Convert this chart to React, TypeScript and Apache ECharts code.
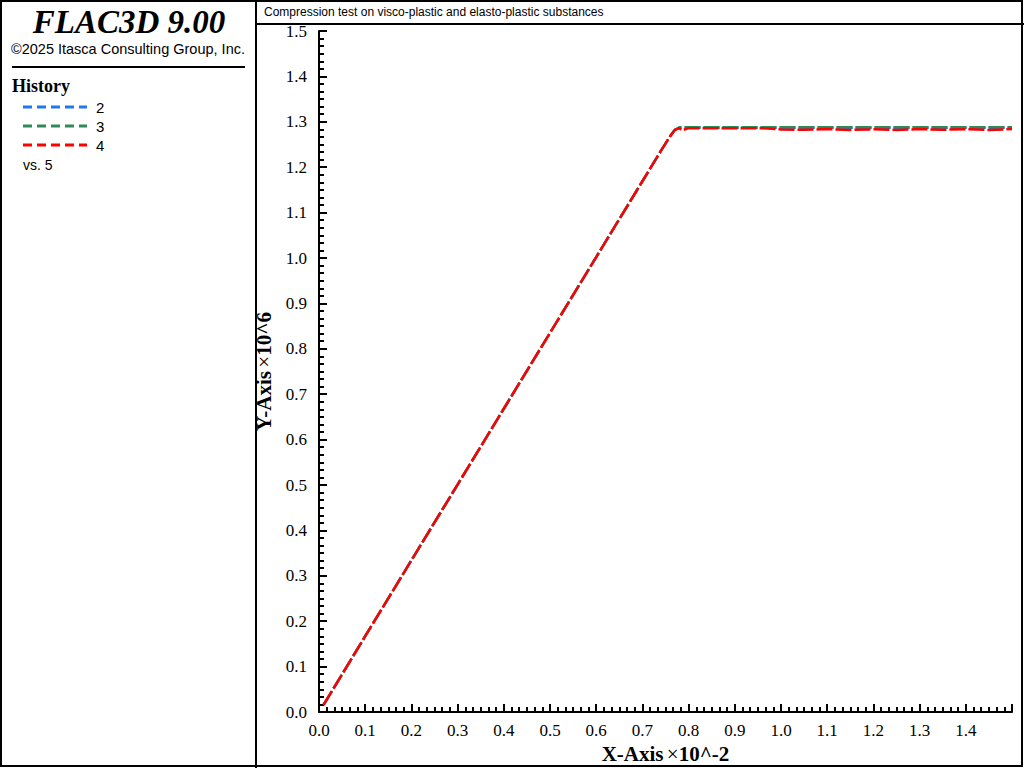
import React, { useEffect, useRef } from "react";
import * as echarts from "echarts";

const xValues = [0.01, 0.1, 0.2, 0.3, 0.4, 0.5, 0.6, 0.7, 0.74, 0.76, 0.77, 0.78, 0.8, 0.9, 1.0, 1.1, 1.2, 1.3, 1.4, 1.5];
const history2 = [0.016, 0.167, 0.334, 0.501, 0.668, 0.835, 1.002, 1.169, 1.236, 1.268, 1.282, 1.287, 1.287, 1.287, 1.287, 1.287, 1.287, 1.287, 1.287, 1.287];
const history3 = [0.016, 0.167, 0.334, 0.501, 0.668, 0.835, 1.002, 1.169, 1.236, 1.268, 1.282, 1.288, 1.288, 1.288, 1.288, 1.288, 1.288, 1.288, 1.288, 1.288];
const redX = [0.01, 0.1, 0.2, 0.3, 0.4, 0.5, 0.6, 0.7, 0.74, 0.76, 0.77, 0.78, 0.785, 0.8, 0.9, 0.97, 1.0, 1.05, 1.1, 1.15, 1.2, 1.25, 1.3, 1.35, 1.4, 1.45, 1.5];
const history4 = [0.016, 0.167, 0.334, 0.501, 0.668, 0.835, 1.002, 1.169, 1.236, 1.268, 1.282, 1.286, 1.281, 1.286, 1.286, 1.2855, 1.283, 1.2825, 1.284, 1.282, 1.2835, 1.282, 1.284, 1.2825, 1.2835, 1.282, 1.284];

const legendNames = ["2", "3", "4"];
const colors = ["#1E78F0", "#2E8B57", "#FF0000"];

export default function App() {
  const ref = useRef<HTMLDivElement>(null);
  useEffect(() => {
    if (!ref.current) return;
    const chart = echarts.init(ref.current, null, { renderer: "svg" });
    const pair = (xs: number[], ys: number[]) => xs.map((x, i) => [x, ys[i]]);
    const serif = "Liberation Serif";
    const sans = "Liberation Sans";
    const legendY = [107, 126, 145];
    const graphics: any[] = [
      { type: "rect", shape: { x: 1, y: 1, width: 1021, height: 765 }, style: { fill: "none", stroke: "#000", lineWidth: 2 }, z: 100 },
      { type: "line", shape: { x1: 256, y1: 0, x2: 256, y2: 768 }, style: { stroke: "#000", lineWidth: 2 }, z: 100 },
      { type: "line", shape: { x1: 256, y1: 24, x2: 1024, y2: 24 }, style: { stroke: "#000", lineWidth: 2 }, z: 100 },
      { type: "line", shape: { x1: 12, y1: 67, x2: 245, y2: 67 }, style: { stroke: "#000", lineWidth: 2 }, z: 100 },
      { type: "text", x: 129, y: 22, style: { text: "FLAC3D 9.00", font: `bold italic 33px "${serif}"`, fill: "#000", align: "center", verticalAlign: "middle" }, z: 100 },
      { type: "text", x: 128, y: 49, style: { text: "©2025 Itasca Consulting Group, Inc.", font: `14.5px "${sans}"`, fill: "#000", align: "center", verticalAlign: "middle" }, z: 100 },
      { type: "text", x: 12, y: 86, style: { text: "History", font: `bold 18px "${serif}"`, fill: "#000", align: "left", verticalAlign: "middle" }, z: 100 },
      { type: "text", x: 23, y: 165, style: { text: "vs. 5", font: `14px "${sans}"`, fill: "#000", align: "left", verticalAlign: "middle" }, z: 100 },
      { type: "text", x: 264, y: 12, style: { text: "Compression test on visco-plastic and elasto-plastic substances", font: `12px "${sans}"`, fill: "#000", align: "left", verticalAlign: "middle" }, z: 100 },
    ];
    legendNames.forEach((n, i) => {
      graphics.push({ type: "line", shape: { x1: 23, y1: legendY[i], x2: 87, y2: legendY[i] }, style: { stroke: colors[i], lineWidth: 3, lineDash: [9, 5] }, z: 100 });
      graphics.push({ type: "text", x: 96, y: legendY[i], style: { text: n, font: `15px "${sans}"`, fill: "#000", align: "left", verticalAlign: "middle" }, z: 100 });
    });
    const axisCommon = {
      axisLine: { show: true, lineStyle: { color: "#000", width: 2 } },
      axisTick: { show: true, inside: true, length: 8, lineStyle: { color: "#000", width: 2 } },
      minorTick: { show: true, splitNumber: 6, length: 5, lineStyle: { color: "#000", width: 2 } },
      splitLine: { show: false },
      minorSplitLine: { show: false },
    };
    const lineStyle = (c: string) => ({ color: c, width: 2.5, type: [16, 3] as any });
    const rich = {
      b: { fontFamily: serif, fontWeight: "bold", fontSize: 21, color: "#000" },
      n: { fontFamily: serif, fontSize: 21, color: "#000" },
    };
    chart.setOption({
      animation: false,
      backgroundColor: "#fff",
      grid: { left: 319, right: 12, top: 31, bottom: 56, containLabel: false, outerBoundsMode: "none" },
      xAxis: {
        type: "value", min: 0, max: 1.5, interval: 0.1,
        ...axisCommon,
        axisLabel: { color: "#000", fontFamily: serif, fontSize: 17, margin: 10, showMaxLabel: false, formatter: (v: number) => v.toFixed(1) },
        name: "{b|X-Axis} {n|×}{b|10^-2}",
        nameLocation: "middle", nameGap: 29,
        nameTextStyle: { rich },
      },
      yAxis: {
        type: "value", min: 0, max: 1.5, interval: 0.1,
        ...axisCommon,
        axisLabel: { color: "#000", fontFamily: serif, fontSize: 17, margin: 12, formatter: (v: number) => v.toFixed(1) },
        name: "{b|Y-Axis} {n|×}{b|10^6}",
        nameLocation: "middle", nameGap: 41, nameRotate: 90,
        nameTextStyle: { rich },
      },
      series: [
        { name: "2", type: "line", data: pair(xValues, history2), showSymbol: false, lineStyle: lineStyle(colors[0]), z: 2 },
        { name: "3", type: "line", data: pair(xValues, history3), showSymbol: false, lineStyle: lineStyle(colors[1]), z: 3 },
        { name: "4", type: "line", data: pair(redX, history4), showSymbol: false, lineStyle: lineStyle(colors[2]), z: 4 },
      ],
      graphic: graphics,
    });
    return () => chart.dispose();
  }, []);
  return <div ref={ref} style={{ position: "fixed", left: 0, top: 0, width: 1024, height: 768 }} />;
}
